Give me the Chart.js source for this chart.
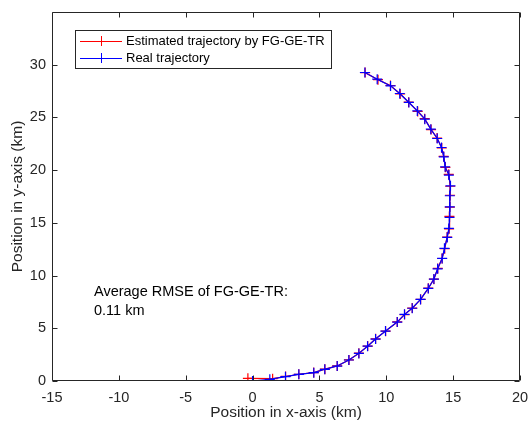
<!DOCTYPE html>
<html>
<head>
<meta charset="utf-8">
<script src="https://cdn.jsdelivr.net/npm/chart.js@4/dist/chart.umd.min.js"></script>
<style>
  html, body { margin: 0; padding: 0; background: #fff; }
  #wrap { width: 528px; height: 426px; }
</style>
</head>
<body>
<div id="wrap"><canvas id="trajChart" width="528" height="426"></canvas></div>
<script>
// real trajectory (km)
const realX = [0.00, 1.29, 2.46, 3.46, 4.58, 5.40, 6.33, 7.20, 7.95, 8.60, 9.20, 9.94, 10.82, 11.36, 11.94, 12.56, 13.14, 13.56, 13.84, 14.18,
  14.35, 14.56, 14.68, 14.73, 14.75, 14.75, 14.80, 14.68, 14.40, 14.30, 14.13, 13.81, 13.33, 12.88, 12.32, 11.69, 11.01, 10.32, 9.32, 8.40];
const realY = [0.00, 0.16, 0.41, 0.63, 0.79, 1.11, 1.42, 1.99, 2.62, 3.30, 3.98, 4.74, 5.59, 6.32, 6.90, 7.74, 8.78, 9.67, 10.64, 11.63,
  12.58, 13.62, 14.47, 15.52, 16.52, 17.57, 18.51, 19.53, 20.31, 21.26, 22.15, 23.00, 23.89, 24.83, 25.62, 26.42, 27.27, 27.99, 28.63, 29.26];

// estimated trajectory by FG-GE-TR (km)
const estX = [-0.35, 1.50, 2.47, 3.46, 4.57, 5.41, 6.33, 7.21, 7.95, 8.61, 9.20, 9.95, 10.82, 11.37, 11.94, 12.57, 13.14, 13.56, 13.85, 14.17,
  14.37, 14.55, 14.70, 14.72, 14.75, 14.77, 14.78, 14.67, 14.42, 14.29, 14.15, 13.80, 13.35, 12.87, 12.35, 11.67, 11.04, 10.31, 9.38, 8.42];
const estY = [0.25, 0.22, 0.43, 0.64, 0.80, 1.12, 1.43, 2.00, 2.64, 3.31, 4.00, 4.73, 5.60, 6.30, 6.92, 7.75, 8.80, 9.66, 10.68, 11.62,
  12.55, 13.66, 14.43, 15.62, 16.50, 17.62, 18.47, 19.60, 20.27, 21.30, 22.10, 23.05, 23.85, 24.88, 25.57, 26.45, 27.22, 28.03, 28.58, 29.25];

const xTicks = [-15, -10, -5, 0, 5, 10, 15, 20];
const yTicks = [0, 5, 10, 15, 20, 25, 30];

const seriesNames = ['Estimated trajectory by FG-GE-TR', 'Real trajectory'];
const rmseLines = ['Average RMSE of FG-GE-TR:', '0.11 km'];

const axisColor = '#262626';
const fontFam = '"Liberation Sans", Arial, Helvetica, sans-serif';

function toPoints(xs, ys) {
  return xs.map((x, i) => ({ x: x, y: ys[i] }));
}

// box, inward ticks, legend and text
const matlabLook = {
  id: 'matlabLook',
  afterDraw(chart) {
    const ctx = chart.ctx;
    const a = chart.chartArea;
    const xs = chart.scales.x, ys = chart.scales.y;
    const L = Math.round(a.left) + 0.5, R = Math.round(a.right) - 0.5;
    const T = Math.round(a.top) + 0.5, B = Math.round(a.bottom) - 0.5;
    ctx.save();
    ctx.strokeStyle = axisColor;
    ctx.lineWidth = 1;
    ctx.beginPath();
    ctx.rect(L, T, R - L, B - T);
    xTicks.forEach(v => {
      const p = Math.round(xs.getPixelForValue(v)) + 0.5;
      ctx.moveTo(p, B); ctx.lineTo(p, B - 5);
      ctx.moveTo(p, T); ctx.lineTo(p, T + 5);
    });
    yTicks.forEach(v => {
      const p = Math.round(ys.getPixelForValue(v)) + 0.5;
      ctx.moveTo(L, p); ctx.lineTo(L + 5, p);
      ctx.moveTo(R, p); ctx.lineTo(R - 5, p);
    });
    ctx.stroke();

    // legend
    const lx = 75.5, ly = 30.5, lw = 256, lh = 38;
    ctx.fillStyle = '#fff';
    ctx.fillRect(lx, ly, lw, lh);
    ctx.strokeStyle = '#262626';
    ctx.strokeRect(lx, ly, lw, lh);
    ctx.font = '13px ' + fontFam;
    ctx.textBaseline = 'middle';
    const rows = [41, 58];
    chart.data.datasets.forEach((ds, i) => {
      const ry = rows[i];
      ctx.strokeStyle = ds.borderColor;
      ctx.lineWidth = 1;
      ctx.beginPath();
      ctx.moveTo(80, ry + 0.5); ctx.lineTo(122, ry + 0.5);
      ctx.moveTo(101.5, ry - 5); ctx.lineTo(101.5, ry + 5);
      ctx.stroke();
      ctx.fillStyle = '#000';
      ctx.fillText(ds.label, 126, ry);
    });

    // RMSE note
    ctx.font = '14.5px ' + fontFam;
    ctx.fillStyle = '#000';
    ctx.fillText(rmseLines[0], 94, 292);
    ctx.fillText(rmseLines[1], 94, 311);
    ctx.restore();
  }
};

new Chart(document.getElementById('trajChart').getContext('2d'), {
  type: 'scatter',
  data: {
    datasets: [
      {
        label: seriesNames[0],
        data: toPoints(estX, estY),
        showLine: true,
        borderColor: '#ff0000',
        backgroundColor: '#ff0000',
        borderWidth: 1.2,
        pointStyle: 'cross',
        pointRadius: 5,
        pointBorderWidth: 1.2,
        tension: 0,
        order: 1
      },
      {
        label: seriesNames[1],
        data: toPoints(realX, realY),
        showLine: true,
        borderColor: '#0000ff',
        backgroundColor: '#0000ff',
        borderWidth: 1.2,
        pointStyle: 'cross',
        pointRadius: 5,
        pointBorderWidth: 1.2,
        tension: 0,
        order: 0
      }
    ]
  },
  options: {
    responsive: false,
    animation: false,
    layout: { padding: { top: 12, right: 8, left: 0, bottom: 0 } },
    plugins: {
      legend: { display: false },
      tooltip: { enabled: false }
    },
    scales: {
      x: {
        type: 'linear',
        min: -15,
        max: 20,
        afterBuildTicks: s => { s.ticks = xTicks.map(v => ({ value: v })); },
        afterFit: s => { s.height = 45; s.paddingLeft = 0; s.paddingRight = 0; },
        grid: { display: false, drawTicks: false },
        border: { display: false },
        ticks: { color: axisColor, padding: 8, font: { family: fontFam, size: 14.5 }, maxRotation: 0 },
        title: {
          display: true,
          text: 'Position in x-axis (km)',
          color: axisColor,
          font: { family: fontFam, size: 15.5 },
          padding: { top: 0, bottom: 4 }
        }
      },
      y: {
        type: 'linear',
        min: 0,
        max: 35,
        afterBuildTicks: s => { s.ticks = yTicks.map(v => ({ value: v })); },
        afterFit: s => { s.width = 52; s.paddingTop = 0; s.paddingBottom = 0; },
        grid: { display: false, drawTicks: false },
        border: { display: false },
        ticks: { color: axisColor, padding: 6, font: { family: fontFam, size: 14.5 } },
        title: {
          display: true,
          text: 'Position in y-axis (km)',
          color: axisColor,
          font: { family: fontFam, size: 15.5 },
          padding: { top: 8, bottom: 0 }
        }
      }
    }
  },
  plugins: [matlabLook]
});
</script>
</body>
</html>
